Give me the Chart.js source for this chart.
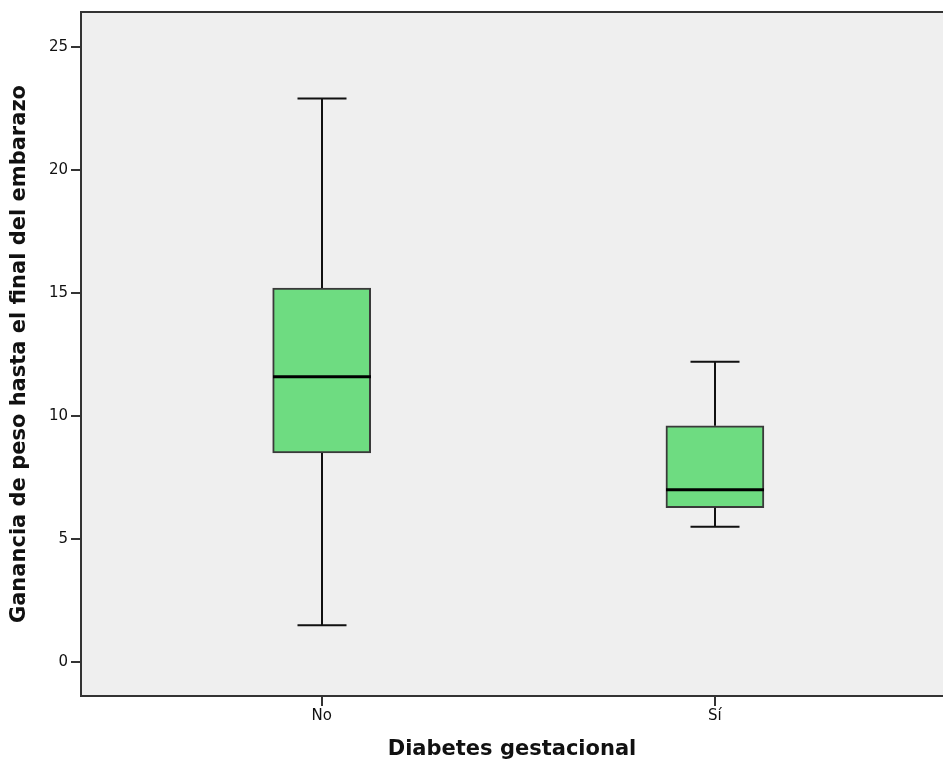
<!DOCTYPE html>
<html>
<head>
<meta charset="utf-8">
<script src="https://cdn.jsdelivr.net/npm/chart.js@4"></script>
<style>
html,body{margin:0;padding:0;background:#fff;}
#wrap{width:943px;height:765px;}
</style>
</head>
<body>
<div id="wrap"><canvas id="c" width="943" height="765"></canvas></div>
<script>
const categories = ['No', 'Sí'];
const whiskerLow = [1.5, 5.5];
const q1 = [8.5, 6.27];
const median = [11.6, 7.0];
const q3 = [15.2, 9.6];
const whiskerHigh = [22.9, 12.2];
const yTicks = [0, 5, 10, 15, 20, 25];

const axisColor = '#333333';
const boxFill = '#6edc81';

const plotPlugin = {
  id: 'plotPlugin',
  beforeDraw(chart) {
    const {ctx, chartArea: a} = chart;
    ctx.save();
    ctx.fillStyle = '#efefef';
    ctx.fillRect(a.left, a.top, a.right - a.left, a.bottom - a.top);
    ctx.restore();
  },
  afterDatasetsDraw(chart) {
    const {ctx, chartArea: a, scales: {x, y}} = chart;
    ctx.save();
    const boxHalf = chart.getDatasetMeta(0).data[0].width / 2;
    categories.forEach((c, i) => {
      const cx = Math.round(x.getPixelForValue(i));
      const capHalf = boxHalf / 2;
      ctx.strokeStyle = '#111';
      ctx.lineWidth = 2;
      ctx.beginPath();
      ctx.moveTo(cx, y.getPixelForValue(q3[i]));
      ctx.lineTo(cx, y.getPixelForValue(whiskerHigh[i]));
      ctx.moveTo(cx - capHalf, y.getPixelForValue(whiskerHigh[i]));
      ctx.lineTo(cx + capHalf, y.getPixelForValue(whiskerHigh[i]));
      ctx.moveTo(cx, y.getPixelForValue(q1[i]));
      ctx.lineTo(cx, y.getPixelForValue(whiskerLow[i]));
      ctx.moveTo(cx - capHalf, y.getPixelForValue(whiskerLow[i]));
      ctx.lineTo(cx + capHalf, y.getPixelForValue(whiskerLow[i]));
      ctx.stroke();
      ctx.strokeStyle = '#000';
      ctx.lineWidth = 3;
      ctx.beginPath();
      ctx.moveTo(cx - boxHalf, y.getPixelForValue(median[i]));
      ctx.lineTo(cx + boxHalf, y.getPixelForValue(median[i]));
      ctx.stroke();
    });
    ctx.strokeStyle = axisColor;
    ctx.lineWidth = 2;
    ctx.beginPath();
    ctx.moveTo(a.right, a.top);
    ctx.lineTo(a.left, a.top);
    ctx.lineTo(a.left, a.bottom);
    ctx.lineTo(a.right, a.bottom);
    ctx.stroke();
    ctx.restore();
  }
};

new Chart(document.getElementById('c'), {
  type: 'bar',
  data: {
    datasets: [{
      data: categories.map((c, i) => ({x: i, y: [q1[i], q3[i]]})),
      backgroundColor: boxFill,
      borderColor: '#3a3a3a',
      borderWidth: 2,
      borderSkipped: false,
      barThickness: 98
    }]
  },
  options: {
    responsive: false,
    animation: false,
    layout: {padding: {top: -1, left: 0, right: 0, bottom: 0}},
    plugins: {legend: {display: false}, tooltip: {enabled: false}},
    scales: {
      x: {
        type: 'linear',
        offset: false,
        min: -0.612,
        max: 1.58,
        afterFit(s) { s.height = 69; },
        afterBuildTicks(s) { s.ticks = categories.map((c, i) => ({value: i})); },
        ticks: {
          callback: (v) => categories[v],
          color: '#111',
          font: {family: 'DejaVu Sans', size: 15},
          padding: 1,
          maxRotation: 0
        },
        grid: {offset: false, drawOnChartArea: false, tickLength: 10, color: axisColor, lineWidth: 2},
        border: {display: false},
        title: {
          display: true,
          text: 'Diabetes gestacional',
          color: '#111',
          font: {family: 'DejaVu Sans', size: 21, weight: 'bold'},
          padding: {top: 0, bottom: 3}
        }
      },
      y: {
        min: -1.38,
        max: 26.42,
        afterFit(s) { s.width = 81; },
        afterBuildTicks(s) { s.ticks = yTicks.map(v => ({value: v})); },
        ticks: {
          color: '#111',
          font: {family: 'DejaVu Sans', size: 15},
          padding: 3
        },
        grid: {drawOnChartArea: false, tickLength: 10, color: axisColor, lineWidth: 2},
        border: {display: false},
        title: {
          display: true,
          text: 'Ganancia de peso hasta el final del embarazo',
          color: '#111',
          font: {family: 'DejaVu Sans', size: 21, weight: 'bold'},
          padding: {top: 7, bottom: 0}
        }
      }
    }
  },
  plugins: [plotPlugin]
});
</script>
</body>
</html>
